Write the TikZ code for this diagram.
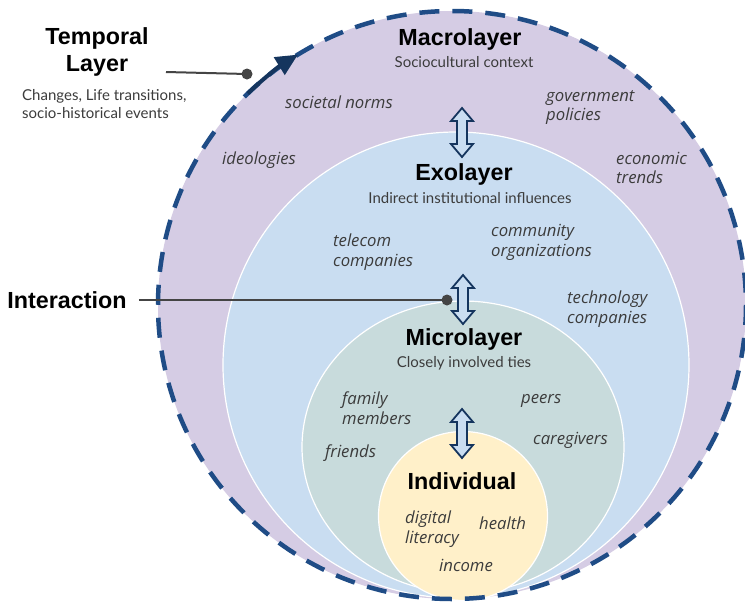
\documentclass[tikz,border=0pt]{standalone}
\usepackage{fontspec}
\setmainfont{Lato}
\newfontfamily\headfont{Liberation Sans}
\newfontfamily\itemfont{Open Sans}
\usetikzlibrary{arrows.meta,calc,shapes.geometric}
\definecolor{macro}{HTML}{D5CCE4}
\definecolor{exo}{HTML}{C9DDF1}
\definecolor{micro}{HTML}{C8DBDC}
\definecolor{indiv}{HTML}{FFF0C9}
\definecolor{navy}{HTML}{15355E}
\definecolor{dashblue}{HTML}{1F4C86}
\definecolor{arrfill}{HTML}{C9DDF1}
\definecolor{txt}{HTML}{3C3C3C}
\definecolor{conn}{HTML}{444444}
\begin{document}
\begin{tikzpicture}[x=1pt,y=-1pt,
  layer/.style={circle, draw=white, line width=1.2pt, inner sep=0pt},
  head/.style={font=\headfont\bfseries\fontsize{23.3}{27}\selectfont, text=black, inner sep=0pt, align=center},
  desc/.style={font=\fontsize{15}{18}\selectfont, text=txt, inner sep=0pt, align=center},
  item/.style={font=\itemfont\itshape\fontsize{16.7}{19.6}\selectfont, text=txt, inner sep=0pt, align=left, anchor=west},
  connline/.style={draw=conn, line width=2pt},
  dot/.style={fill=conn},
  dblarr/.pic={\draw[draw=navy, fill=arrfill, line width=1.8pt, line join=miter]
     (0,0) -- (11,13) -- (5,13) -- (5,36) -- (11,36) -- (0,49) -- (-11,36) -- (-5,36) -- (-5,13) -- (-11,13) -- cycle;}
  ]
\useasboundingbox (0,0) rectangle (745,603);
\fill[white] (0,0) rectangle (745,603);
% layers
\node[layer, draw=none, fill=macro, minimum size=588pt] (macro) at (452,305) {};
\node[layer, fill=exo, minimum size=466pt] (exo) at (456,365) {};
\node[layer, ellipse, fill=micro, minimum width=322pt, minimum height=292pt] (micro) at (463,447) {};
\node[layer, fill=indiv, minimum size=169pt] (indiv) at (463,516) {};
% temporal dashed circle
\draw[dashblue, line width=4.5pt, dash pattern=on 20pt off 13pt] (macro.center) circle[radius=294];
\coordinate (tarrs) at ($(macro.center)+(-134:294)$);
\draw[navy, line width=4pt, -{Triangle[length=22pt,width=20pt]}] (tarrs) arc[start angle=-134, end angle=-121.6, radius=294];
% interaction arrows
\pic at (462,108) {dblarr};
\pic at (463,275) {dblarr};
\pic at (462,409) {dblarr};
% headings
\node[head] (temp) at (97,52) {Temporal\\Layer};
\node[desc, align=left, anchor=west] (tempd) at (22,104.5) {Changes, Life transitions,\\socio-historical events};
\node[head] (inter) at (67,300) {Interaction};
\node[head] (macrot) at (460,39) {Macrolayer};
\node[desc] (macrod) at (464,62) {Sociocultural context};
\node[head] (exot) at (464,174) {Exolayer};
\node[desc] (exod) at (470,198) {Indirect institutional influences};
\node[head] (microt) at (464,339) {Microlayer};
\node[desc] (microd) at (464,363) {Closely involved ties};
\node[head] (indivt) at (462,481) {Individual};
% items
\node[item] (i1) at (285,102) {societal norms};
\node[item] (i2) at (546,107.5) {government\\policies};
\node[item] (i3) at (222,160) {ideologies};
\node[item] (i4) at (616,168) {economic\\trends};
\node[item] (i5) at (333,252) {telecom\\companies};
\node[item] (i6) at (491,242.5) {community\\organizations};
\node[item] (i7) at (567,309) {technology\\companies};
\node[item] (i8) at (342,408) {family\\members};
\node[item] (i9) at (521,401) {peers};
\node[item] (i10) at (325,453) {friends};
\node[item] (i11) at (533,440) {caregivers};
\node[item] (i12) at (405,529) {digital\\literacy};
\node[item] (i13) at (479,523) {health};
\node[item] (i14) at (439,565) {income};
% connectors
\coordinate (intdot) at (447,300);
\draw[connline] ([xshift=12pt]inter.east) -- (intdot);
\fill[dot] (intdot) circle[radius=5.5];
\coordinate (tstart) at (166,72);
\coordinate (tdot) at (247,74);
\draw[connline] (tstart) -- (tdot);
\fill[dot] (tdot) circle[radius=5.5];
\end{tikzpicture}
\end{document}
